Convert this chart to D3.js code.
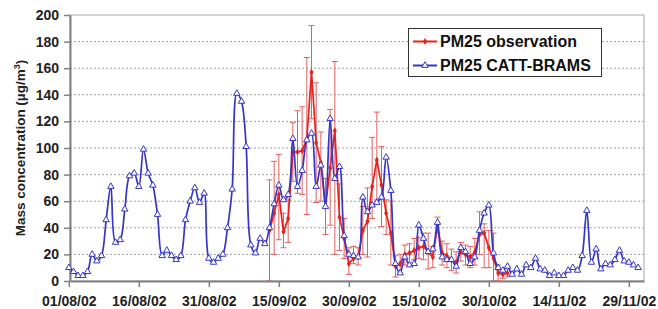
<!DOCTYPE html>
<html>
<head>
<meta charset="utf-8">
<script src="https://cdn.jsdelivr.net/npm/d3@7"></script>
<style>
  html, body { margin: 0; padding: 0; background: #fff; }
  svg { display: block; font-family: "Liberation Sans", Arial, sans-serif; font-weight: bold; }
</style>
</head>
<body>
<svg id="chart" width="658" height="309"></svg>
<script>
/* ── Data ─────────────────────────────────────────────── */
// daily values, first day = 01/08/2002
const startDay = new Date(2002, 7, 1);

// PM25 CATT-BRAMS (model), one value per day
const modelValues = [
  10, 7, 4, 4, 7, 20, 15, 19, 46, 71,
  29, 31, 54, 79, 81, 71, 99, 81, 72, 50,
  19, 23, 19, 16, 19, 46, 60, 70, 59, 66,
  17, 14, 17, 20, 40, 69, 141, 135, 101, 27,
  21, 32, 28, 40, 58, 72, 61, 65, 107, 71,
  83, 106, 111, 71, 87, 56, 122, 77, 86, 34,
  20, 19, 18, 63, 52, 57, 59, 63, 93, 68,
  13, 6, 18, 12, 13, 42, 32, 22, 24, 44,
  18, 16, 16, 11, 25, 22, 13, 18, 38, 51,
  57, 21, 10, 8, 11, 5, 9, 5, 12, 10,
  17, 9, 8, 4, 6, 4, 4, 8, 10, 8,
  19, 53, 14, 24, 9, 13, 12, 16, 23, 15,
  14, 12, 10
];

// PM25 observation, starts at day index 43 (13/09/2002)
const obsStart = 43;
const obsValues = [
  38, 51, 65, 37, 47, 97, 97, 98, 107, 157,
  104, 89, 56, 85, 113, 48, 32, 13, 17, 18,
  38, 45, 71, 91, 72, 51, 36, 11, 13, 20,
  21, 23, 25, 26, 22, 18, 42, 21, 19, 16,
  14, 22, 20, 18, 22, 35, 36, 25, 17, 6,
  5, 6
];
const obsLow = [
  0, 20, 31, 25, 29, 75, 66, 65, 50, 122,
  59, 60, 35, 42, 20, 23, 17, 5, 13, 12,
  20, 18, 47, 61, 41, 35, 12, 3, 6, 12,
  14, 16, 17, 16, 9, 10, 36, 12, 10, 8,
  6, 15, 12, 10, 12, 20, 10, 10, 0, 0,
  2, 3
];
const obsHigh = [
  76, 90, 95, 51, 61, 119, 128, 131, 168, 192,
  149, 112, 77, 129, 165, 73, 47, 25, 26, 25,
  56, 70, 108, 127, 101, 61, 60, 19, 20, 27,
  28, 32, 33, 36, 36, 26, 48, 30, 28, 24,
  22, 29, 27, 26, 32, 52, 43, 38, 36, 12,
  8, 9
];

const yTicks = [0, 20, 40, 60, 80, 100, 120, 140, 160, 180, 200];
const xTickDays = [0, 15, 30, 45, 60, 75, 90, 105, 120];
const xTickLabels = ['01/08/02', '16/08/02', '31/08/02', '15/09/02', '30/09/02',
                     '15/10/02', '30/10/02', '14/11/02', '29/11/02'];

const seriesNames = ['PM25 observation', 'PM25 CATT-BRAMS'];

/* ── Setup ────────────────────────────────────────────── */
const RED = '#e8201c', RED_BAR = '#e06060', BLUE = '#3535c8';
const svg = d3.select('#chart');
const plot = { left: 70, right: 644, top: 15, bottom: 281 };

const dayDate = i => d3.timeDay.offset(startDay, i);

const x = d3.scaleTime()
  .domain([d3.timeHour.offset(startDay, 6), d3.timeHour.offset(dayDate(123), 6)])
  .range([plot.left, plot.right]);
const y = d3.scaleLinear().domain([0, 200]).range([plot.bottom, plot.top]);

const model = modelValues.map((v, i) => ({ date: dayDate(i), v }));
const obs = obsValues.map((v, i) => ({
  date: dayDate(obsStart + i), v, lo: obsLow[i], hi: obsHigh[i]
}));

/* ── Grid + frame ─────────────────────────────────────── */
svg.append('g')
  .selectAll('line')
  .data(yTicks.filter(t => t > 0 && t < 200))
  .join('line')
  .attr('x1', plot.left).attr('x2', plot.right)
  .attr('y1', d => y(d)).attr('y2', d => y(d))
  .attr('stroke', '#a0a0a0')
  .attr('stroke-width', 1)
  .attr('stroke-dasharray', '2,2');

svg.append('rect')
  .attr('x', plot.left).attr('y', plot.top)
  .attr('width', plot.right - plot.left).attr('height', plot.bottom - plot.top)
  .attr('fill', 'none').attr('stroke', '#a8a8a8');

/* ── Axes ─────────────────────────────────────────────── */
const yAxis = svg.append('g')
  .attr('transform', `translate(${plot.left},0)`)
  .call(d3.axisLeft(y).tickValues(yTicks).tickSize(6).tickPadding(5).tickSizeOuter(0));

const xAxis = svg.append('g')
  .attr('transform', `translate(0,${plot.bottom})`)
  .call(d3.axisBottom(x)
    .tickValues(xTickDays.map(dayDate))
    .tickFormat((d, i) => xTickLabels[i])
    .tickSize(6).tickPadding(9).tickSizeOuter(0));

[yAxis, xAxis].forEach(g => {
  g.select('.domain').attr('stroke', '#808080').attr('stroke-width', 2);
  g.selectAll('.tick line').attr('stroke', '#808080').attr('stroke-width', 1.5);
  g.selectAll('.tick text')
    .attr('fill', '#222')
    .style('font-size', '14px')
    .style('font-weight', 'bold')
    .style('font-family', '"Liberation Sans", Arial, sans-serif');
});

svg.append('text')
  .attr('transform', 'translate(25,148) rotate(-90)')
  .attr('text-anchor', 'middle')
  .attr('fill', '#222')
  .style('font-size', '13.5px')
  .html('Mass concentration (µg/m<tspan dy="-5" font-size="9">3</tspan><tspan dy="5">)</tspan>');

/* ── Observation: error bars, line, markers ───────────── */
const bars = svg.append('g').attr('stroke', RED_BAR).attr('stroke-width', 1);
bars.selectAll('line.v').data(obs).join('line')
  .attr('class', 'v')
  .attr('x1', d => x(d.date)).attr('x2', d => x(d.date))
  .attr('y1', d => y(d.lo)).attr('y2', d => y(d.hi));
['lo', 'hi'].forEach(k => {
  bars.selectAll('line.' + k).data(obs).join('line')
    .attr('class', k)
    .attr('x1', d => x(d.date) - 3).attr('x2', d => x(d.date) + 3)
    .attr('y1', d => y(d[k])).attr('y2', d => y(d[k]));
});

const lineObs = d3.line().x(d => x(d.date)).y(d => y(d.v));
svg.append('path')
  .datum(obs)
  .attr('d', lineObs)
  .attr('fill', 'none').attr('stroke', RED).attr('stroke-width', 1.7);

const diamond = d3.symbol().type(d3.symbolDiamond).size(14);
svg.append('g').selectAll('path').data(obs).join('path')
  .attr('d', diamond)
  .attr('transform', d => `translate(${x(d.date)},${y(d.v)})`)
  .attr('fill', RED);

/* ── Model line + markers ─────────────────────────────── */
const lineModel = d3.line().curve(d3.curveCatmullRom.alpha(0.5))
  .x(d => x(d.date)).y(d => y(d.v));
svg.append('path')
  .datum(model)
  .attr('d', lineModel)
  .attr('fill', 'none').attr('stroke', BLUE).attr('stroke-width', 1.7);

const tri = d3.symbol().type(d3.symbolTriangle).size(18);
svg.append('g').selectAll('path').data(model).join('path')
  .attr('d', tri)
  .attr('transform', d => `translate(${x(d.date)},${y(d.v)})`)
  .attr('fill', '#fff').attr('stroke', BLUE).attr('stroke-width', 1);

/* ── Legend ───────────────────────────────────────────── */
const legend = svg.append('g');
legend.append('rect')
  .attr('x', 408.5).attr('y', 28.5).attr('width', 193).attr('height', 48)
  .attr('fill', '#fff').attr('stroke', '#333').attr('stroke-width', 1);

seriesNames.forEach((name, i) => {
  const ly = 41.5 + i * 24;
  const col = i === 0 ? RED : BLUE;
  legend.append('line')
    .attr('x1', 413).attr('x2', 437).attr('y1', ly).attr('y2', ly)
    .attr('stroke', col).attr('stroke-width', 2);
  legend.append('path')
    .attr('d', i === 0 ? diamond() : tri())
    .attr('transform', `translate(425,${ly})`)
    .attr('fill', i === 0 ? RED : '#fff')
    .attr('stroke', i === 0 ? 'none' : BLUE);
  legend.append('text')
    .attr('x', 440).attr('y', ly + 5.8)
    .attr('fill', '#111')
    .style('font-size', '16px')
    .text(name);
});
</script>
</body>
</html>
